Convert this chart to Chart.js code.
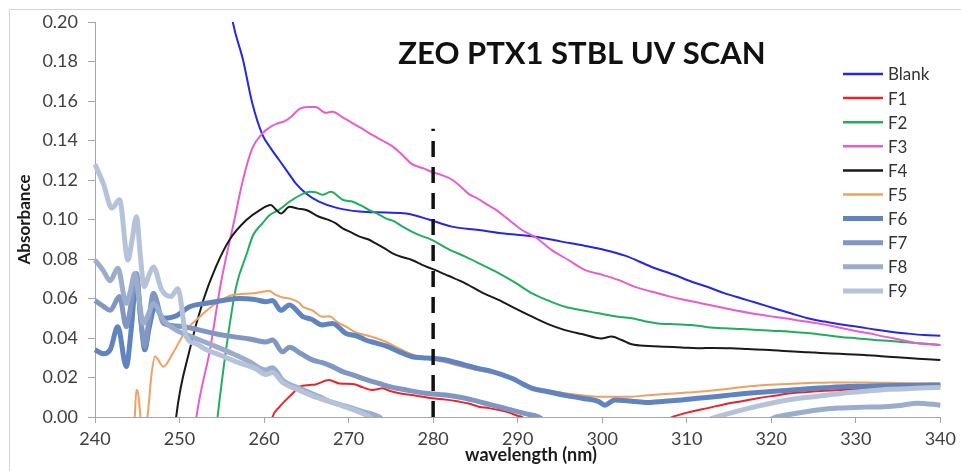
<!DOCTYPE html>
<html>
<head>
<meta charset="utf-8">
<script src="https://cdn.jsdelivr.net/npm/chart.js@4.4.1/dist/chart.umd.min.js"></script>
<style>
  html, body { margin: 0; padding: 0; background: #ffffff; }
  canvas { display: block; }
</style>
</head>
<body>
<canvas id="scan" width="961" height="471"></canvas>
<script>
// UV absorbance scans (wavelength in nm, absorbance)
const chartTitle = 'ZEO PTX1 STBL UV SCAN';
const xAxisTitle = 'wavelength (nm)';
const yAxisTitle = 'Absorbance';
const seriesNames = ['Blank', 'F1', 'F2', 'F3', 'F4', 'F5', 'F6', 'F7', 'F8', 'F9'];

const wlBlank = [255.8, 256.3, 257.5, 258.6, 259.8, 260.8, 261.8, 262.8, 263.8, 265.0, 266.5, 268.5, 271.3, 274.4, 276.8, 279.5, 282.2, 285.4, 288.1, 292.1, 295.2, 298.0, 300.3, 302.7, 305.8, 308.5, 310.6, 312.5, 314.5, 316.5, 318.4, 320.5, 322.3, 324.3, 326.3, 328.3, 330.2, 332.2, 334.1, 336.0, 338.1, 340.0];
const absBlank = [0.214, 0.200, 0.181, 0.159, 0.143, 0.136, 0.130, 0.124, 0.118, 0.113, 0.109, 0.106, 0.104, 0.1035, 0.103, 0.100, 0.0964, 0.0947, 0.093, 0.0913, 0.0888, 0.0866, 0.0846, 0.0817, 0.0761, 0.072, 0.0685, 0.0658, 0.0626, 0.060, 0.0576, 0.0548, 0.0525, 0.050, 0.0483, 0.0468, 0.0457, 0.0443, 0.0432, 0.0423, 0.0415, 0.0412];

const wlF1 = [260.5, 261.0, 261.8, 263.4, 264.2, 265.4, 266.1, 267.7, 268.9, 270.5, 271.7, 272.8, 274.0, 275.0, 276.0, 278.0, 279.9, 281.5, 283.0, 284.2, 285.4, 286.6, 287.8, 289.0, 290.1, 290.5, 292.0, 300.0, 306.0, 308.3, 310.5, 312.5, 314.5, 316.5, 318.4, 320.4, 322.3, 324.3, 326.3, 328.2, 330.2, 332.5, 335.3, 337.3, 340.0];
const absF1 = [-0.01, 0, 0.005, 0.012, 0.0154, 0.0162, 0.0165, 0.0187, 0.017, 0.0167, 0.015, 0.0137, 0.0145, 0.013, 0.012, 0.0108, 0.0095, 0.0088, 0.0078, 0.0068, 0.0052, 0.0045, 0.0035, 0.0022, 0.0005, 0, -0.005, -0.01, -0.005, 0, 0.0027, 0.0045, 0.0065, 0.008, 0.0095, 0.0108, 0.012, 0.0127, 0.0133, 0.0137, 0.014, 0.0146, 0.0154, 0.016, 0.016];

const wlF2 = [254.0, 254.5, 255.5, 256.7, 257.9, 258.7, 259.8, 260.6, 261.8, 263.0, 264.6, 265.4, 266.1, 266.9, 267.9, 269.3, 270.5, 271.5, 272.4, 273.4, 274.4, 275.4, 276.4, 277.4, 278.3, 279.9, 281.8, 283.8, 285.8, 287.8, 289.7, 291.7, 293.6, 295.6, 297.6, 299.6, 301.5, 303.5, 305.0, 306.6, 308.6, 310.6, 312.5, 314.5, 316.5, 318.4, 320.4, 322.3, 324.3, 326.3, 328.2, 330.2, 332.2, 334.1, 336.0, 338.0, 340.0];
const absF2 = [-0.02, 0, 0.034, 0.066, 0.082, 0.092, 0.098, 0.102, 0.105, 0.109, 0.113, 0.114, 0.1138, 0.1125, 0.114, 0.110, 0.109, 0.107, 0.1048, 0.103, 0.1006, 0.099, 0.0964, 0.094, 0.0922, 0.0896, 0.085, 0.0812, 0.077, 0.0727, 0.068, 0.0626, 0.059, 0.0558, 0.054, 0.0525, 0.051, 0.050, 0.0485, 0.0474, 0.047, 0.0466, 0.0455, 0.0449, 0.0445, 0.044, 0.0436, 0.0432, 0.0425, 0.0415, 0.0405, 0.0398, 0.039, 0.0385, 0.0378, 0.0372, 0.0365];

const wlF3 = [251.5, 252.0, 253.6, 254.9, 256.5, 257.5, 258.6, 259.8, 260.8, 261.6, 262.4, 263.2, 264.2, 265.2, 266.1, 267.3, 268.1, 269.2, 270.5, 271.6, 272.8, 274.0, 275.2, 276.4, 277.5, 278.8, 279.9, 281.0, 282.3, 283.3, 284.2, 285.3, 286.2, 287.4, 288.5, 289.5, 290.5, 292.1, 294.0, 296.0, 298.0, 300.0, 301.9, 303.8, 305.8, 307.8, 309.8, 311.8, 313.7, 315.7, 317.6, 319.6, 321.6, 323.5, 325.5, 327.5, 329.4, 331.4, 333.4, 335.4, 337.3, 338.7, 340.0];
const absF3 = [-0.02, 0, 0.034, 0.068, 0.100, 0.120, 0.136, 0.1436, 0.147, 0.1487, 0.1497, 0.152, 0.156, 0.157, 0.157, 0.154, 0.1546, 0.152, 0.1487, 0.146, 0.1428, 0.140, 0.137, 0.1325, 0.128, 0.126, 0.124, 0.1225, 0.120, 0.1165, 0.113, 0.1105, 0.108, 0.105, 0.1014, 0.098, 0.0947, 0.091, 0.0846, 0.0795, 0.0744, 0.072, 0.0694, 0.066, 0.0635, 0.0612, 0.0592, 0.0575, 0.0558, 0.054, 0.0525, 0.0512, 0.050, 0.0487, 0.0474, 0.0458, 0.044, 0.0425, 0.0407, 0.039, 0.0373, 0.0368, 0.0365];

const wlF4 = [249.2, 249.6, 251.2, 252.8, 254.3, 255.9, 257.9, 259.5, 260.8, 261.4, 262.0, 263.0, 264.0, 265.0, 266.5, 267.7, 268.5, 269.3, 270.3, 271.3, 272.3, 273.2, 274.2, 275.2, 276.3, 277.5, 278.7, 279.9, 281.8, 283.8, 285.8, 287.8, 289.7, 291.7, 293.6, 295.6, 297.6, 299.9, 301.1, 302.3, 303.5, 305.5, 307.4, 309.4, 311.3, 313.3, 315.3, 317.2, 319.2, 321.1, 323.1, 325.1, 327.1, 329.0, 331.0, 333.0, 334.9, 337.0, 338.5, 340.0];
const absF4 = [-0.02, 0, 0.034, 0.059, 0.076, 0.0896, 0.0997, 0.1048, 0.1073, 0.105, 0.103, 0.1065, 0.1055, 0.1048, 0.1014, 0.0997, 0.098, 0.0955, 0.0935, 0.0913, 0.090, 0.0879, 0.0855, 0.0829, 0.081, 0.0795, 0.077, 0.075, 0.0715, 0.0677, 0.063, 0.0592, 0.055, 0.0508, 0.047, 0.044, 0.042, 0.0398, 0.0407, 0.039, 0.0368, 0.036, 0.0356, 0.0352, 0.0348, 0.035, 0.0348, 0.0344, 0.034, 0.0336, 0.033, 0.0326, 0.0322, 0.0318, 0.0314, 0.0308, 0.0302, 0.0296, 0.0292, 0.0289];

const wlF5 = [244.5, 244.7, 244.9, 245.1, 245.5, 245.7, 246.2, 246.7, 247.1, 248.1, 249.2, 250.8, 252.4, 254.3, 256.3, 258.7, 260.6, 261.4, 262.2, 263.0, 264.1, 264.6, 265.7, 266.9, 267.7, 268.7, 269.7, 270.8, 272.0, 273.2, 274.4, 275.6, 276.8, 278.0, 279.1, 281.2, 283.4, 285.4, 287.4, 289.5, 291.7, 293.6, 295.6, 297.6, 299.6, 301.5, 303.5, 305.4, 307.4, 309.4, 311.3, 313.3, 315.3, 317.2, 319.2, 321.2, 323.1, 325.1, 327.1, 329.0, 331.0, 333.0, 334.9, 337.0, 340.0];
const absF5 = [-0.01, 0, 0.0137, 0.012, -0.005, -0.01, 0, 0.022, 0.0306, 0.0255, 0.0322, 0.044, 0.0508, 0.0575, 0.0618, 0.0626, 0.0638, 0.0618, 0.0605, 0.060, 0.058, 0.0558, 0.054, 0.0508, 0.051, 0.048, 0.0457, 0.043, 0.0415, 0.040, 0.0381, 0.0355, 0.033, 0.031, 0.0297, 0.028, 0.0255, 0.0235, 0.022, 0.019, 0.0154, 0.0135, 0.012, 0.011, 0.0103, 0.0103, 0.0103, 0.011, 0.0116, 0.0122, 0.0128, 0.0136, 0.0145, 0.0154, 0.0162, 0.0166, 0.017, 0.0173, 0.0175, 0.0175, 0.0175, 0.0174, 0.0172, 0.0171, 0.017];

const wlF6 = [240.0, 241.0, 241.8, 242.7, 243.7, 244.3, 244.9, 245.4, 245.9, 246.4, 247.1, 248.1, 249.5, 251.2, 253.0, 255.1, 257.1, 258.9, 260.2, 261.0, 262.0, 263.0, 264.6, 265.6, 266.9, 268.1, 269.7, 271.0, 272.0, 273.2, 274.4, 276.0, 277.5, 278.7, 279.9, 281.5, 283.8, 285.4, 287.0, 289.3, 291.7, 293.6, 295.6, 297.6, 299.6, 300.3, 301.5, 303.5, 305.4, 307.4, 309.4, 311.3, 313.3, 315.3, 317.2, 319.2, 321.2, 323.1, 325.1, 327.0, 329.0, 331.0, 333.0, 336.0, 340.0];
const absF6 = [0.034, 0.032, 0.034, 0.0457, 0.0255, 0.045, 0.071, 0.050, 0.034, 0.045, 0.0558, 0.050, 0.051, 0.0558, 0.0575, 0.059, 0.060, 0.0595, 0.0584, 0.059, 0.054, 0.0567, 0.0508, 0.0495, 0.0466, 0.0474, 0.0423, 0.041, 0.039, 0.0375, 0.036, 0.033, 0.0305, 0.030, 0.0297, 0.0289, 0.0263, 0.0245, 0.023, 0.0196, 0.0145, 0.0128, 0.011, 0.0095, 0.0078, 0.006, 0.0086, 0.008, 0.0073, 0.008, 0.0086, 0.0095, 0.0103, 0.0112, 0.012, 0.0127, 0.0133, 0.0139, 0.0145, 0.015, 0.0154, 0.0156, 0.0158, 0.016, 0.0162];

const wlF7 = [240.0, 241.0, 241.8, 242.9, 243.7, 244.3, 244.9, 245.4, 245.9, 246.4, 246.9, 248.1, 250.0, 252.4, 254.4, 256.3, 258.3, 260.2, 261.0, 262.2, 263.0, 264.4, 265.7, 266.9, 268.1, 269.3, 270.5, 272.0, 273.6, 275.2, 276.8, 279.1, 281.5, 283.8, 285.4, 287.0, 289.3, 290.8, 292.5, 293.5, 300.0];
const absF7 = [0.059, 0.056, 0.054, 0.061, 0.0457, 0.058, 0.0727, 0.050, 0.0356, 0.050, 0.0626, 0.0474, 0.046, 0.044, 0.042, 0.0407, 0.0395, 0.038, 0.039, 0.033, 0.0353, 0.032, 0.0289, 0.0275, 0.0255, 0.023, 0.0213, 0.019, 0.017, 0.015, 0.0137, 0.012, 0.0111, 0.0095, 0.0078, 0.006, 0.0035, 0.0018, 0, -0.003, -0.01];

const wlF8 = [240.0, 241.0, 241.8, 242.7, 243.7, 244.2, 244.7, 245.2, 245.7, 246.3, 246.9, 248.1, 249.6, 251.2, 252.4, 254.4, 256.3, 258.3, 260.2, 261.0, 262.2, 264.2, 266.5, 268.0, 269.7, 271.5, 273.6, 275.0, 300.0, 318.0, 320.6, 322.5, 325.5, 328.0, 331.0, 333.4, 335.5, 337.3, 340.0];
const absF8 = [0.0795, 0.074, 0.069, 0.0753, 0.0575, 0.064, 0.0727, 0.060, 0.0474, 0.052, 0.0575, 0.049, 0.044, 0.041, 0.039, 0.0355, 0.032, 0.028, 0.0238, 0.025, 0.0187, 0.0145, 0.0103, 0.0075, 0.0055, 0.003, 0, -0.005, -0.01, -0.005, 0, 0.0015, 0.0035, 0.0045, 0.005, 0.0052, 0.006, 0.007, 0.006];

const wlF9 = [240.0, 241.0, 242.0, 242.9, 243.9, 244.4, 244.9, 245.4, 245.8, 246.4, 246.9, 247.9, 249.0, 249.8, 250.8, 252.0, 253.2, 255.0, 257.0, 259.0, 260.2, 261.0, 262.2, 264.2, 266.5, 268.5, 269.7, 271.0, 272.5, 274.0, 290.0, 312.0, 313.5, 316.0, 318.4, 320.5, 322.5, 325.5, 328.0, 331.0, 334.0, 337.0, 340.0];
const absF9 = [0.128, 0.118, 0.1057, 0.110, 0.0795, 0.090, 0.1014, 0.080, 0.066, 0.072, 0.076, 0.0643, 0.061, 0.065, 0.0407, 0.037, 0.034, 0.031, 0.0275, 0.0245, 0.0215, 0.0225, 0.0175, 0.0135, 0.0095, 0.0068, 0.005, 0.003, 0, -0.005, -0.01, -0.002, 0, 0.003, 0.0055, 0.0075, 0.009, 0.0105, 0.0118, 0.013, 0.014, 0.0145, 0.015];

// reference wavelength marker at 280 nm
const markerWl = [280, 280];
const markerAbs = [0, 0.146];

const seriesWl = [wlBlank, wlF1, wlF2, wlF3, wlF4, wlF5, wlF6, wlF7, wlF8, wlF9];
const seriesAbs = [absBlank, absF1, absF2, absF3, absF4, absF5, absF6, absF7, absF8, absF9];

// line styling per series
const lineColors = ['#2626e6', '#e8242c', '#1fae5c', '#e85ccf', '#1a1a1a', '#f0a060', '#5f84bf', '#7f97c2', '#9badcc', '#b6c2da'];
const lineWidths = [2, 2, 2, 2, 2, 2, 5, 5, 5, 5];

const FONT = 'Lato, "Open Sans", "DejaVu Sans", sans-serif';
const AXIS_GREY = '#a6a6a6';

const toPoints = (xs, ys) => xs.map((x, i) => ({ x: x, y: ys[i] }));

const datasets = seriesNames.map((name, i) => ({
  label: name,
  data: toPoints(seriesWl[i], seriesAbs[i]),
  borderColor: lineColors[i],
  backgroundColor: lineColors[i],
  borderWidth: lineWidths[i],
  pointRadius: 0,
  cubicInterpolationMode: 'monotone',
  order: seriesNames.length - i,
  clip: { left: 3, right: 3, top: 0, bottom: 0 }
}));

datasets.push({
  label: '280 nm',
  isMarker: true,
  data: toPoints(markerWl, markerAbs),
  borderColor: '#111111',
  borderWidth: 3.5,
  borderDash: [16, 10],
  borderCapStyle: 'butt',
  pointRadius: 0,
  order: 0
});

const decorations = {
  id: 'decorations',
  beforeDraw(chart) {
    const ctx = chart.ctx;
    ctx.save();
    ctx.fillStyle = '#ffffff';
    ctx.fillRect(0, 0, chart.width, chart.height);
    // chart frame (top and left edges visible)
    ctx.strokeStyle = '#d4d4d4';
    ctx.lineWidth = 1;
    ctx.beginPath();
    ctx.moveTo(9.5, chart.height);
    ctx.lineTo(9.5, 9.5);
    ctx.lineTo(chart.width, 9.5);
    ctx.stroke();
    ctx.restore();
  },
  afterDraw(chart) {
    const ctx = chart.ctx;
    const area = chart.chartArea;
    ctx.save();

    // title
    ctx.fillStyle = '#111111';
    ctx.font = 'bold 31px ' + FONT;
    ctx.textAlign = 'center';
    ctx.textBaseline = 'middle';
    ctx.fillText(chartTitle, 582, 54);

    // axis titles
    ctx.fillStyle = '#1a1a1a';
    ctx.font = 'bold 18px ' + FONT;
    ctx.fillText(xAxisTitle, 531, 455);
    ctx.save();
    ctx.translate(25, (area.top + area.bottom) / 2 + 0);
    ctx.rotate(-Math.PI / 2);
    ctx.font = 'bold 17px ' + FONT;
    ctx.fillText(yAxisTitle, 0, 0);
    ctx.restore();

    // legend
    ctx.font = '17px ' + FONT;
    ctx.textAlign = 'left';
    ctx.textBaseline = 'middle';
    chart.data.datasets.forEach((ds, i) => {
      if (ds.isMarker) return;
      const y = 74 + i * 24.1;
      ctx.strokeStyle = ds.borderColor;
      ctx.lineWidth = ds.borderWidth === 2 ? 2.5 : 5;
      ctx.beginPath();
      ctx.moveTo(843, y);
      ctx.lineTo(883, y);
      ctx.stroke();
      ctx.fillStyle = '#333333';
      ctx.fillText(ds.label, 888, y + 1);
    });
    ctx.restore();
  }
};

new Chart(document.getElementById('scan'), {
  type: 'line',
  data: { datasets: datasets },
  plugins: [decorations],
  options: {
    responsive: false,
    animation: false,
    devicePixelRatio: 1,
    layout: { padding: { left: 0, right: 18, top: 22, bottom: 0 } },
    plugins: {
      legend: { display: false },
      title: { display: false },
      tooltip: { enabled: false }
    },
    scales: {
      x: {
        type: 'linear',
        min: 240,
        max: 340,
        afterFit: (s) => { s.height = 54; },
        ticks: {
          stepSize: 10,
          maxRotation: 0,
          padding: 5,
          color: '#404040',
          font: { family: FONT, size: 18 }
        },
        grid: { drawOnChartArea: false, drawTicks: true, tickLength: 6, color: AXIS_GREY },
        border: { color: AXIS_GREY, width: 1 }
      },
      y: {
        type: 'linear',
        min: 0,
        max: 0.2,
        afterFit: (s) => { s.width = 95; },
        ticks: {
          stepSize: 0.02,
          padding: 10,
          color: '#404040',
          font: { family: FONT, size: 18 },
          callback: (v) => v.toFixed(2)
        },
        grid: { drawOnChartArea: false, drawTicks: true, tickLength: 7, color: AXIS_GREY },
        border: { color: AXIS_GREY, width: 1 }
      }
    }
  }
});
</script>
</body>
</html>
